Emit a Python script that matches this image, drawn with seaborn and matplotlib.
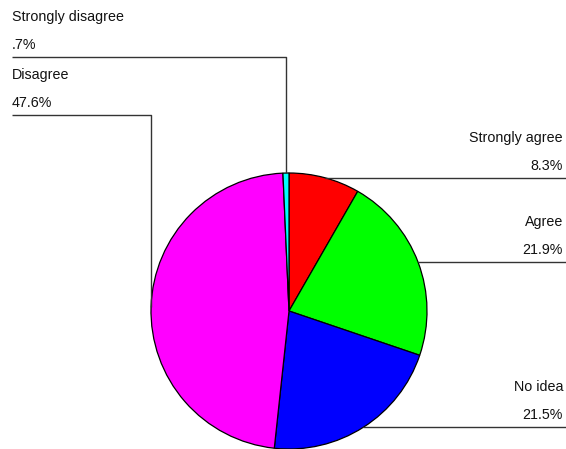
import matplotlib
matplotlib.use("Agg")
import matplotlib.pyplot as plt
import numpy as np
import seaborn as sns

categories = ["Strongly agree", "Agree", "No idea", "Disagree", "Strongly disagree"]
percents = [8.3, 21.9, 21.5, 47.6, 0.7]
colors = ["#FF0000", "#00FF00", "#0000FF", "#FF00FF", "#00FFFF"]

sns.set_theme(style="white")
plt.rcParams["font.family"] = ["Liberation Sans", "DejaVu Sans"]

W, H = 566, 449
fig = plt.figure(figsize=(W / 100, H / 100), dpi=100)
ax = fig.add_axes([0, 0, 1, 1])

cx, cy, r = 289, H - 311, 138
ax.pie(percents, colors=colors, startangle=90, counterclock=False,
       center=(cx, cy), radius=r,
       wedgeprops=dict(edgecolor="black", linewidth=0.9))
ax.set_xlim(0, W)
ax.set_ylim(0, H)
ax.set_aspect("auto")
ax.axis("off")


def fmt(p):
    s = f"{p:.1f}%"
    return s[1:] if s.startswith("0") else s


line_kw = dict(color="#333333", linewidth=1.0, solid_capstyle="butt")
fs = 10.3
left_rows = {"Disagree": H - 115, "Strongly disagree": H - 57}

angle = 90.0
for cat, p in zip(categories, percents):
    sweep = p * 3.6
    mid = np.deg2rad(angle - sweep / 2)
    angle -= sweep
    mx, my = cx + r * np.cos(mid), cy + r * np.sin(mid)
    if cat in left_rows:
        ly = left_rows[cat]
        ax.plot([mx, mx, 12], [my, ly, ly], **line_kw)
        ax.text(12, ly + 40, cat, ha="left", va="center", fontsize=fs, color="#111111")
        ax.text(12, ly + 12, fmt(p), ha="left", va="center", fontsize=fs, color="#111111")
    else:
        ly = my
        ax.plot([mx, W], [ly, ly], **line_kw)
        ax.text(563, ly + 40, cat, ha="right", va="center", fontsize=fs, color="#111111")
        ax.text(563, ly + 12, fmt(p), ha="right", va="center", fontsize=fs, color="#111111")

fig.savefig("out.png", dpi=100)
